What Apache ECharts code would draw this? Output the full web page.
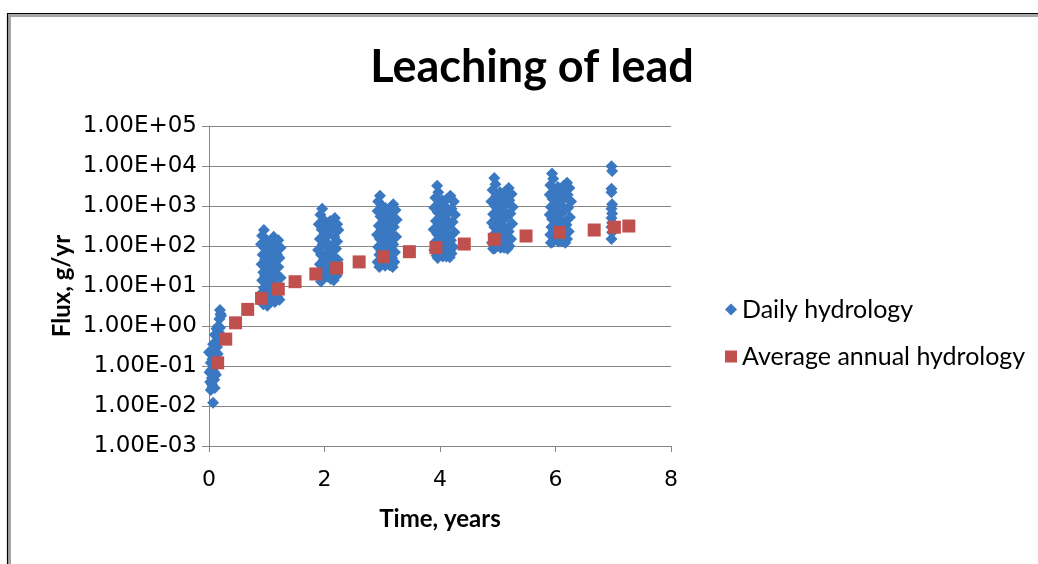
<!DOCTYPE html>
<html>
<head>
<meta charset="utf-8">
<title>Leaching of lead</title>
<script src="https://cdn.jsdelivr.net/npm/echarts@6.0.0/dist/echarts.min.js"></script>
<style>
html, body { margin: 0; padding: 0; background: #fff; }
#chart { width: 1038px; height: 564px; }
</style>
</head>
<body>
<div id="chart"></div>
<script>
// tick labels of the log axis, from 1E-03 up to 1E+05
const y_tick_labels = ['1.00E-03', '1.00E-02', '1.00E-01', '1.00E+00', '1.00E+01',
  '1.00E+02', '1.00E+03', '1.00E+04', '1.00E+05']

// daily hydrology, [time in years, flux g/yr]
const daily_year0 = [[0.07, 0.012], [0.03, 0.025], [0.06, 0.03], [0.1, 0.028], [0.02, 0.04],
  [0.05, 0.05], [0.09, 0.045], [0.12, 0.06], [0.01, 0.07], [0.04, 0.08], [0.08, 0.09],
  [0.11, 0.1], [0.03, 0.12], [0.06, 0.15], [0.1, 0.14], [0.0, 0.22], [0.04, 0.2],
  [0.08, 0.25], [0.12, 0.22], [0.07, 0.35], [0.11, 0.4], [0.14, 0.3], [0.1, 0.6],
  [0.14, 0.55], [0.17, 0.7], [0.13, 0.85], [0.16, 1.0], [0.19, 0.9], [0.18, 1.5],
  [0.2, 2.0], [0.19, 2.5], [0.21, 1.8], [0.05, 0.035], [0.09, 0.07], [0.13, 0.12],
  [0.15, 0.2], [0.16, 0.4], [0.12, 0.3]]
const daily_year1 = [[0.95, 250], [0.92, 180], [0.98, 150], [0.9, 110], [0.96, 90], [1.0, 70],
  [0.93, 60], [0.97, 45], [0.91, 35], [0.99, 30], [0.94, 22], [0.97, 18], [0.92, 14],
  [1.0, 12], [0.95, 9], [0.93, 7], [0.98, 6], [0.96, 4.5], [0.94, 3.5], [1.01, 3.2],
  [1.04, 130], [1.06, 95], [1.03, 65], [1.07, 48], [1.05, 33], [1.03, 24], [1.06, 17],
  [1.04, 10], [1.07, 8], [1.05, 5], [1.03, 4],
  [1.12, 170], [1.2, 140], [1.08, 120], [1.16, 100], [1.24, 90], [1.1, 75], [1.18, 60],
  [1.22, 50], [1.06, 45], [1.14, 38], [1.2, 30], [1.1, 25], [1.17, 20], [1.24, 16],
  [1.08, 14], [1.15, 11], [1.2, 9], [1.12, 7], [1.18, 5.5], [1.22, 4.5], [1.14, 4]]
const daily_year2 = [[1.96, 850], [1.93, 600], [1.98, 450], [1.9, 350], [1.95, 260], [2.0, 200],
  [1.92, 150], [1.97, 110], [1.89, 80], [1.94, 60], [1.99, 45], [1.92, 35], [1.96, 25],
  [1.9, 20], [1.98, 16], [1.94, 13],
  [2.03, 380], [2.05, 260], [2.02, 180], [2.04, 120], [2.06, 90], [2.03, 62], [2.05, 42],
  [2.02, 30], [2.04, 22], [2.06, 17],
  [2.18, 500], [2.1, 420], [2.22, 350], [2.14, 300], [2.24, 250], [2.08, 200], [2.17, 170],
  [2.22, 130], [2.12, 100], [2.2, 85], [2.06, 70], [2.15, 55], [2.23, 45], [2.1, 35],
  [2.18, 28], [2.14, 22], [2.21, 18], [2.16, 14], [2.11, 15]]
const daily_year3 = [[2.96, 1800], [2.93, 1300], [2.99, 1000], [2.92, 750], [2.97, 550], [3.02, 420],
  [2.94, 320], [2.99, 250], [2.91, 190], [2.96, 150], [3.01, 120], [2.93, 95], [2.98, 75],
  [2.95, 60], [3.0, 48], [2.92, 40], [2.97, 33], [2.95, 30],
  [3.05, 900], [3.06, 600], [3.04, 400], [3.07, 280], [3.05, 190], [3.03, 130], [3.06, 85],
  [3.04, 55], [3.07, 40], [3.05, 32],
  [3.19, 1100], [3.14, 900], [3.23, 800], [3.1, 650], [3.18, 550], [3.25, 450], [3.12, 380],
  [3.2, 300], [3.08, 250], [3.16, 200], [3.24, 170], [3.11, 140], [3.19, 110], [3.15, 90],
  [3.22, 70], [3.09, 60], [3.17, 50], [3.21, 40], [3.13, 33], [3.18, 30]]
const daily_year4 = [[3.95, 3200], [3.97, 2200], [3.92, 1600], [3.99, 1200], [3.9, 900], [3.96, 700],
  [4.01, 550], [3.93, 420], [3.98, 330], [3.89, 260], [3.95, 200], [4.0, 160], [3.92, 125],
  [3.97, 100], [3.9, 80], [3.99, 68], [3.94, 58], [3.96, 50],
  [4.04, 1400], [4.05, 950], [4.03, 650], [4.06, 450], [4.04, 300], [4.05, 210], [4.03, 140],
  [4.06, 95], [4.04, 70], [4.05, 55],
  [4.18, 1800], [4.12, 1500], [4.24, 1300], [4.08, 1000], [4.2, 850], [4.15, 700], [4.26, 600],
  [4.1, 480], [4.22, 400], [4.16, 320], [4.06, 260], [4.25, 220], [4.13, 180], [4.19, 140],
  [4.09, 110], [4.23, 95], [4.15, 80], [4.2, 65], [4.11, 55], [4.17, 52]]
const daily_year5 = [[4.94, 5000], [4.96, 3500], [4.91, 2500], [4.98, 1800], [4.89, 1300], [4.95, 1000],
  [5.01, 800], [4.92, 620], [4.97, 480], [4.9, 380], [4.94, 300], [5.0, 240], [4.93, 190],
  [4.97, 150], [4.9, 120], [4.99, 100], [4.95, 88], [4.92, 85],
  [5.04, 2200], [5.05, 1500], [5.03, 1050], [5.06, 700], [5.04, 480], [5.05, 330], [5.03, 220],
  [5.06, 150], [5.04, 110], [5.05, 90],
  [5.19, 2800], [5.13, 2300], [5.24, 2000], [5.09, 1700], [5.2, 1400], [5.15, 1150], [5.26, 950],
  [5.1, 780], [5.22, 650], [5.16, 520], [5.06, 430], [5.25, 360], [5.12, 290], [5.19, 230],
  [5.08, 180], [5.23, 150], [5.15, 120], [5.2, 100], [5.11, 90], [5.17, 85]]
const daily_year6 = [[5.94, 6500], [5.96, 4800], [5.91, 3300], [5.98, 2500], [5.9, 1900], [5.95, 1500],
  [6.01, 1200], [5.92, 950], [5.97, 750], [5.9, 600], [5.94, 470], [6.0, 380], [5.93, 300],
  [5.97, 240], [5.91, 190], [5.99, 150], [5.95, 125], [5.92, 120],
  [6.04, 3000], [6.05, 2000], [6.03, 1400], [6.06, 1000], [6.04, 700], [6.05, 480], [6.03, 330],
  [6.06, 230], [6.04, 170], [6.05, 130],
  [6.2, 3800], [6.14, 3200], [6.24, 2800], [6.1, 2300], [6.21, 1900], [6.16, 1600], [6.27, 1300],
  [6.08, 1100], [6.22, 900], [6.15, 750], [6.06, 620], [6.25, 520], [6.12, 420], [6.19, 340],
  [6.09, 280], [6.23, 230], [6.15, 180], [6.2, 150], [6.11, 130], [6.17, 120]]
const daily_year7 = [[6.97, 9800], [6.98, 7500], [6.97, 2700], [6.97, 2200], [6.98, 1100], [6.97, 850],
  [6.98, 650], [6.97, 500], [6.98, 380], [6.97, 300], [6.98, 220], [6.97, 150]]

// average annual hydrology
const avg_years = [0.15, 0.29, 0.46, 0.67, 0.91, 1.2, 1.49, 1.85, 2.21, 2.6, 3.02, 3.47, 3.93,
  4.42, 4.94, 5.49, 6.07, 6.67, 7.02, 7.27]
const avg_flux = [0.12, 0.47, 1.2, 2.6, 4.9, 8.4, 12.8, 20, 28, 40, 54, 72, 91,
  112, 147, 178, 219, 251, 295, 316]

const daily_data = daily_year0.concat(daily_year1, daily_year2, daily_year3,
  daily_year4, daily_year5, daily_year6, daily_year7)
const avg_data = avg_years.map((t, i) => [t, avg_flux[i]])

const grey = '#868686'
const myChart = echarts.init(document.getElementById('chart'), null, { renderer: 'canvas' })

myChart.setOption({
  animation: false,
  backgroundColor: '#fff',
  // 图框
  graphic: [
    {
      type: 'rect',
      shape: { x: 9.5, y: 15.5, width: 1100, height: 700 },
      style: { fill: null, stroke: '#a6a6a6', lineWidth: 3 }
    },
    {
      type: 'rect',
      shape: { x: 7.5, y: 13.5, width: 1100, height: 700 },
      style: { fill: null, stroke: '#000', lineWidth: 1.2 }
    }
  ],
  title: {
    text: 'Leaching of lead',
    left: 527,
    textAlign: 'center',
    top: 40,
    textStyle: {
      fontFamily: 'Lato',
      fontWeight: 'bold',
      fontSize: 45,
      color: '#000'
    }
  },
  legend: {
    orient: 'vertical',
    left: 720,
    top: 292,
    itemGap: 22,
    itemWidth: 12,
    itemHeight: 12,
    textStyle: {
      fontFamily: 'Lato',
      fontSize: 25,
      color: '#000'
    },
    data: ['Daily hydrology', 'Average annual hydrology']
  },
  grid: {
    left: 209,
    right: 367,
    top: 126,
    bottom: 118,
    containLabel: false
  },
  xAxis: {
    type: 'value',
    min: 0,
    max: 8,
    interval: 2,
    name: 'Time, years',
    nameLocation: 'middle',
    nameGap: 61,
    nameTextStyle: {
      fontFamily: 'Lato',
      fontWeight: 'bold',
      fontSize: 24,
      color: '#000'
    },
    axisLine: { lineStyle: { color: grey, width: 1 } },
    axisTick: { show: true, length: 6, lineStyle: { color: grey } },
    axisLabel: {
      margin: 23,
      fontFamily: 'DejaVu Sans',
      fontSize: 22,
      color: '#000'
    },
    splitLine: { show: false }
  },
  yAxis: {
    type: 'log',
    logBase: 10,
    min: 0.001,
    max: 100000,
    interval: 1,
    splitNumber: 8,
    name: 'Flux, g/yr',
    nameLocation: 'middle',
    nameGap: 135,
    nameTextStyle: {
      fontFamily: 'Lato',
      fontWeight: 'bold',
      fontSize: 24,
      color: '#000'
    },
    axisLine: { show: true, lineStyle: { color: grey, width: 1 } },
    axisTick: { show: true, length: 7, lineStyle: { color: grey } },
    axisLabel: {
      margin: 12,
      fontFamily: 'DejaVu Sans',
      fontSize: 23,
      color: '#000',
      formatter: function (v) {
        return y_tick_labels[Math.round(Math.log10(v)) + 3]
      }
    },
    splitLine: { show: true, lineStyle: { color: grey, width: 1 } }
  },
  series: [
    {
      name: 'Daily hydrology',
      type: 'scatter',
      symbol: 'diamond',
      symbolSize: 12,
      itemStyle: { color: '#3a78c2', opacity: 1 },
      data: daily_data
    },
    {
      name: 'Average annual hydrology',
      type: 'scatter',
      symbol: 'rect',
      symbolSize: 13,
      itemStyle: { color: '#c0504d', opacity: 1 },
      data: avg_data
    }
  ]
})
</script>
</body>
</html>
